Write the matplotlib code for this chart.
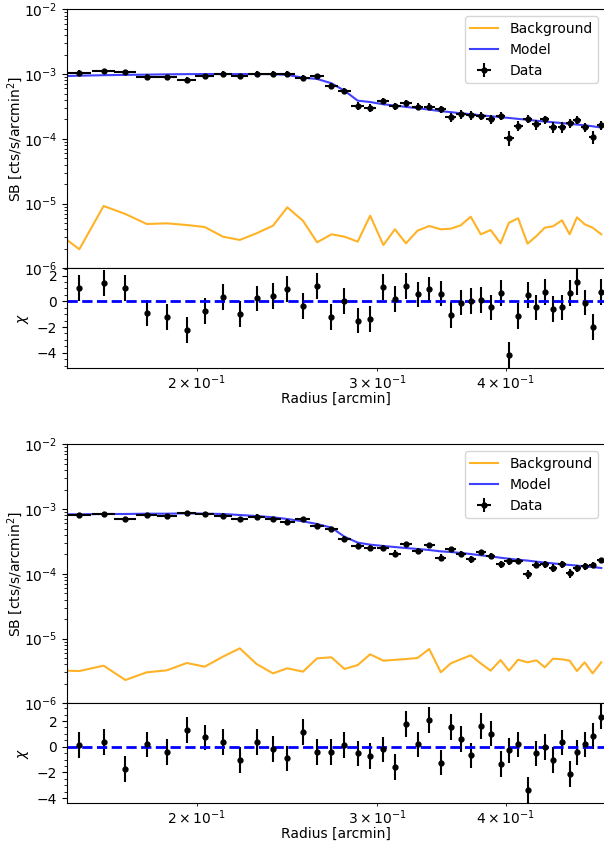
import matplotlib
matplotlib.use("Agg")
import matplotlib.pyplot as plt
from matplotlib.ticker import MultipleLocator

# radial bins (arcmin), same for both profiles
r = [0.1537, 0.1623, 0.1704, 0.1788, 0.1870, 0.1956, 0.2036, 0.2121, 0.2203, 0.2287,
     0.2373, 0.2451, 0.2538, 0.2620, 0.2706, 0.2786, 0.2870, 0.2951, 0.3040, 0.3120,
     0.3198, 0.3282, 0.3369, 0.3458, 0.3536, 0.3616, 0.3698, 0.3782, 0.3867, 0.3954,
     0.4029, 0.4113, 0.4201, 0.4286, 0.4366, 0.4448, 0.4538, 0.4617, 0.4693, 0.4775,
     0.4861, 0.4956]
r_err = 0.0042
r_edge = 0.1495
r_max = 0.4998
r_line = [r_edge] + r

# ---- profile 1 ----
sb1 = [1.049e-3, 1.114e-3, 1.076e-3, 8.91e-4, 8.91e-4, 8.09e-4, 9.23e-4, 1.012e-3, 9.23e-4, 1.012e-3,
       1.012e-3, 1.012e-3, 8.69e-4, 9.23e-4, 6.61e-4, 5.47e-4, 3.21e-4, 3.02e-4, 3.88e-4, 3.21e-4,
       3.53e-4, 3.13e-4, 3.13e-4, 2.85e-4, 2.19e-4, 2.39e-4, 2.31e-4, 2.25e-4, 2.02e-4, 2.25e-4,
       1.04e-4, 1.59e-4, 2.04e-4, 1.67e-4, 2.00e-4, 1.52e-4, 1.52e-4, 1.77e-4, 1.95e-4, 1.52e-4,
       1.08e-4, 1.62e-4]
sb1_err = [1.0e-4, 1.0e-4, 9.8e-5, 9.5e-5, 9.3e-5, 9.0e-5, 9.2e-5, 9.4e-5, 9.2e-5, 9.4e-5,
           9.3e-5, 9.2e-5, 8.5e-5, 8.2e-5, 7.0e-5, 5.8e-5, 4.5e-5, 4.3e-5, 4.4e-5, 4.0e-5,
           4.1e-5, 3.9e-5, 3.8e-5, 3.7e-5, 3.5e-5, 3.5e-5, 3.4e-5, 3.3e-5, 3.2e-5, 3.2e-5,
           2.6e-5, 2.8e-5, 2.9e-5, 2.8e-5, 2.9e-5, 2.7e-5, 2.7e-5, 2.8e-5, 2.8e-5, 2.6e-5,
           2.4e-5, 2.6e-5]
model1 = [9.33e-4, 9.43e-4, 9.6e-4, 9.7e-4, 9.8e-4, 9.9e-4, 9.97e-4, 1.0e-3, 1.0e-3, 1.0e-3,
          1.0e-3, 9.97e-4, 9.7e-4, 8.8e-4, 8.4e-4, 7.2e-4, 5.53e-4, 3.88e-4, 3.70e-4, 3.41e-4,
          3.26e-4, 3.11e-4, 2.97e-4, 2.82e-4, 2.67e-4, 2.58e-4, 2.48e-4, 2.40e-4, 2.31e-4, 2.23e-4,
          2.16e-4, 2.10e-4, 2.03e-4, 1.97e-4, 1.90e-4, 1.85e-4, 1.80e-4, 1.75e-4, 1.70e-4, 1.66e-4,
          1.62e-4, 1.56e-4, 1.49e-4]
bkg1 = [2.74e-6, 1.97e-6, 9.17e-6, 6.90e-6, 4.83e-6, 4.95e-6, 4.66e-6, 4.34e-6, 3.08e-6, 2.74e-6,
        3.47e-6, 4.55e-6, 8.75e-6, 5.43e-6, 2.52e-6, 3.35e-6, 3.08e-6, 2.58e-6, 6.49e-6, 2.29e-6,
        4.00e-6, 2.43e-6, 3.81e-6, 4.50e-6, 4.00e-6, 4.09e-6, 4.61e-6, 6.26e-6, 3.35e-6, 3.90e-6,
        2.43e-6, 5.06e-6, 5.92e-6, 2.40e-6, 3.15e-6, 4.24e-6, 4.45e-6, 5.51e-6, 3.35e-6, 6.13e-6,
        4.78e-6, 4.24e-6, 3.35e-6]
chi1 = [1.01, 1.40, 1.06, -0.89, -1.22, -2.23, -0.75, 0.31, -0.96, 0.23,
        0.39, 0.98, -0.37, 1.19, -1.22, 0.03, -1.50, -1.37, 1.14, 0.16,
        1.19, 0.54, 0.93, 0.60, -1.09, -0.10, 0.03, 0.13, -0.47, 0.67,
        -4.18, -1.14, 0.52, -0.47, 0.73, -0.62, -0.47, 0.67, 1.50, -0.10,
        -1.97, 0.70]
chi1_lim = (-5.21, 2.57)

# ---- profile 2 ----
sb2 = [8.09e-4, 8.39e-4, 6.94e-4, 8.09e-4, 7.81e-4, 8.69e-4, 8.39e-4, 7.90e-4, 6.94e-4, 7.62e-4,
       6.94e-4, 6.31e-4, 6.94e-4, 5.47e-4, 4.86e-4, 3.45e-4, 2.69e-4, 2.53e-4, 2.53e-4, 2.05e-4,
       2.88e-4, 2.28e-4, 2.75e-4, 1.77e-4, 2.42e-4, 2.05e-4, 1.67e-4, 2.17e-4, 1.91e-4, 1.40e-4,
       1.56e-4, 1.60e-4, 9.93e-5, 1.38e-4, 1.42e-4, 1.24e-4, 1.40e-4, 1.02e-4, 1.23e-4, 1.30e-4,
       1.37e-4, 1.63e-4]
sb2_err = [7.5e-5, 7.5e-5, 7.0e-5, 7.2e-5, 7.0e-5, 7.2e-5, 7.0e-5, 6.8e-5, 6.5e-5, 6.5e-5,
           6.2e-5, 6.0e-5, 5.6e-5, 5.2e-5, 4.6e-5, 3.6e-5, 3.0e-5, 2.8e-5, 2.7e-5, 2.6e-5,
           2.5e-5, 2.4e-5, 2.3e-5, 2.2e-5, 2.2e-5, 2.1e-5, 2.0e-5, 2.0e-5, 1.9e-5, 1.9e-5,
           1.8e-5, 1.8e-5, 1.7e-5, 1.7e-5, 1.7e-5, 1.6e-5, 1.6e-5, 1.6e-5, 1.6e-5, 1.5e-5,
           1.5e-5, 1.5e-5]
model2 = [8.29e-4, 8.29e-4, 8.39e-4, 8.39e-4, 8.48e-4, 8.48e-4, 8.58e-4, 8.48e-4, 8.39e-4, 8.09e-4,
          7.81e-4, 7.45e-4, 7.02e-4, 6.46e-4, 5.87e-4, 5.16e-4, 3.74e-4, 3.03e-4, 2.82e-4, 2.69e-4,
          2.59e-4, 2.50e-4, 2.42e-4, 2.33e-4, 2.22e-4, 2.17e-4, 2.10e-4, 2.02e-4, 1.93e-4, 1.86e-4,
          1.77e-4, 1.71e-4, 1.65e-4, 1.60e-4, 1.54e-4, 1.49e-4, 1.45e-4, 1.40e-4, 1.37e-4, 1.34e-4,
          1.30e-4, 1.27e-4, 1.23e-4]
bkg2 = [3.19e-6, 3.15e-6, 3.81e-6, 2.29e-6, 3.01e-6, 3.23e-6, 4.19e-6, 3.68e-6, 5.25e-6, 7.06e-6,
        4.05e-6, 2.90e-6, 3.47e-6, 3.08e-6, 4.95e-6, 5.13e-6, 3.39e-6, 3.90e-6, 5.71e-6, 4.55e-6,
        4.69e-6, 4.83e-6, 5.01e-6, 6.90e-6, 3.01e-6, 4.14e-6, 4.78e-6, 5.51e-6, 4.14e-6, 3.19e-6,
        4.66e-6, 3.19e-6, 4.72e-6, 4.29e-6, 4.61e-6, 3.59e-6, 4.89e-6, 4.78e-6, 4.55e-6, 3.15e-6,
        4.29e-6, 2.90e-6, 4.29e-6]
chi2 = [0.13, 0.39, -1.72, 0.18, -0.42, 1.28, 0.73, 0.39, -1.02, 0.39,
        -0.16, -0.91, 1.15, -0.42, -0.42, 0.13, -0.52, -0.73, -0.21, -1.59,
        1.75, 0.18, 2.09, -1.23, 1.54, 0.60, -0.68, 1.62, 1.02, -1.36,
        -0.29, 0.18, -3.39, -0.52, 0.00, -1.04, 0.34, -2.14, -0.44, 0.18,
        0.84, 2.35]
chi2_lim = (-4.40, 3.38)

profiles = [
    (sb1, sb1_err, model1, bkg1, chi1, chi1_lim),
    (sb2, sb2_err, model2, bkg2, chi2, chi2_lim),
]

W, H = 604, 843
fig = plt.figure(figsize=(W / 100, H / 100), dpi=100)

left, right = 67, 605
# (top of SB panel, bottom of SB panel, bottom of chi panel) in pixels
rows = [(9.3, 268.3, 368.3), (444.3, 703.3, 803.3)]


def box(top, bottom):
    return [left / W, 1 - bottom / H, (right - left) / W, (bottom - top) / H]


for (sb, sb_err, model, bkg, chi, chi_lim), (t, m, b) in zip(profiles, rows):
    ax = fig.add_axes(box(t, m))
    axc = fig.add_axes(box(m, b), sharex=ax)

    ax.plot(r_line, bkg, color='orange', alpha=0.85, label='Background')
    ax.plot(r_line, model, color='b', alpha=0.75, label='Model')
    ax.errorbar(r, sb, xerr=r_err, yerr=sb_err, fmt='o', color='k', ms=3.5,
                label='Data')
    ax.set_xscale('log')
    ax.set_yscale('log')
    ax.set_ylim(1e-6, 1e-2)
    ax.set_xlim(r_edge, r_max)
    ax.set_ylabel('SB [cts/s/arcmin$^2$]', labelpad=-1)
    ax.tick_params(labelbottom=False)
    ax.legend(loc='upper right')

    axc.errorbar(r, chi, yerr=1, fmt='o', color='k', ms=3.5)
    axc.axhline(0, color='b', ls='--', lw=2)
    axc.set_ylim(*chi_lim)
    axc.yaxis.set_major_locator(MultipleLocator(2))
    axc.yaxis.set_minor_locator(MultipleLocator(0.5))
    axc.tick_params(axis='x', which='both', pad=1.5)
    axc.set_ylabel(r'$\chi$')
    axc.set_xlabel('Radius [arcmin]', labelpad=0)

fig.savefig('out.png', dpi=100)
